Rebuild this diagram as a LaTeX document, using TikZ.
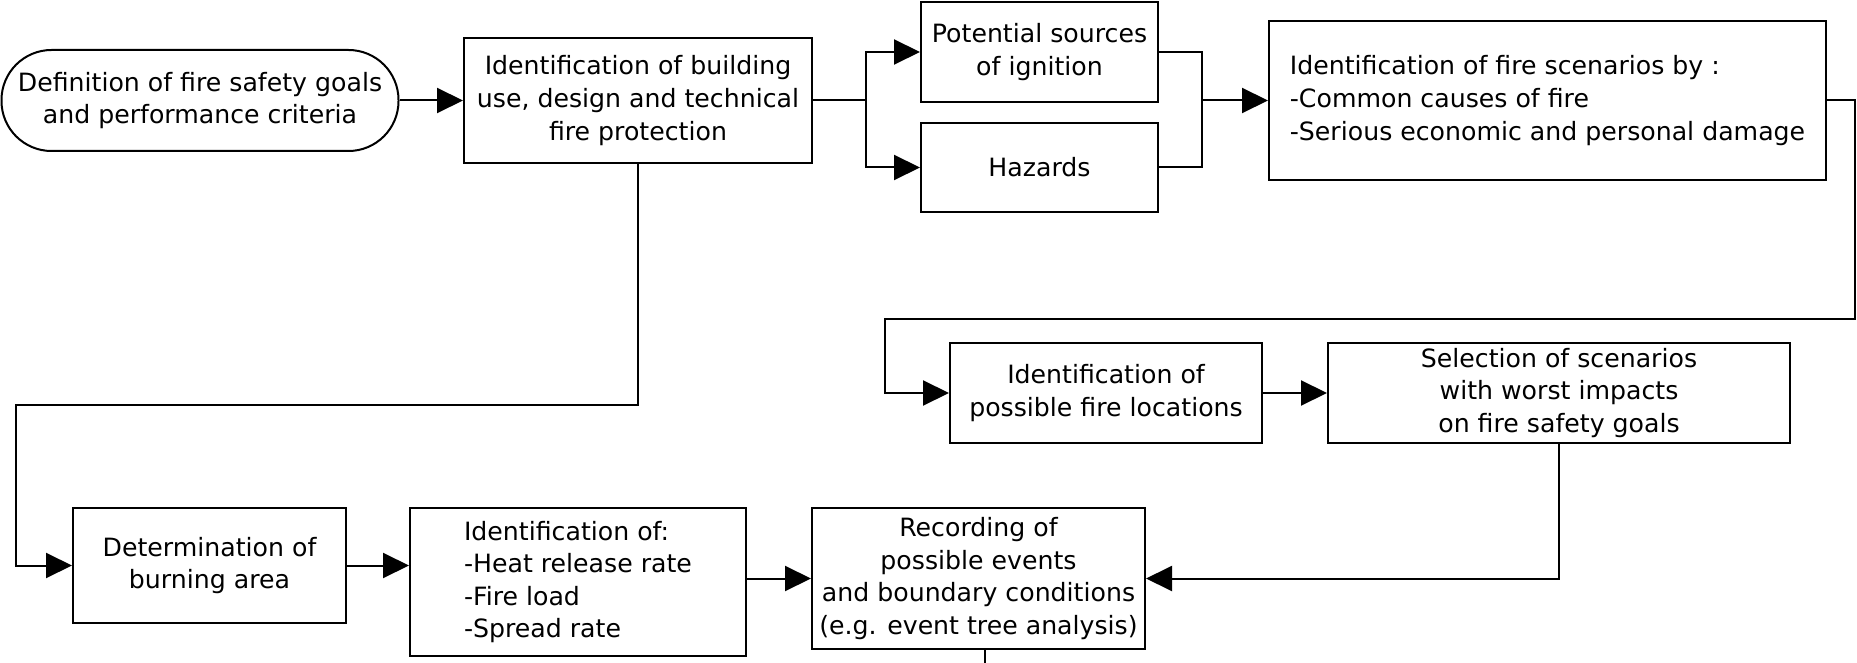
\documentclass[tikz,border=0pt]{standalone}
\usepackage{fontspec}
\setmainfont{DejaVu Sans}
\usetikzlibrary{arrows.meta}
\begin{document}
\begin{tikzpicture}[x=0.5pt,y=-0.5pt,
  box/.style={draw,line width=1pt,inner sep=0pt,align=center,
    font=\fontsize{12.6pt}{16.3pt}\selectfont},
  ln/.style={line width=1pt},
  arr/.style={line width=1pt,-{Triangle[length=13pt,width=12.5pt]}}]
\useasboundingbox (0,0) rectangle (1857,663);
% nodes
\node[box,rounded corners=25pt,minimum width=198.5pt,minimum height=50.5pt] (start) at (200,100.5)
  {Definition of fire safety goals\\and performance criteria};
\node[box,minimum width=174pt,minimum height=62.5pt] (use) at (638,100.5)
  {Identification of building\\use, design and technical\\fire protection};
\node[box,minimum width=118.5pt,minimum height=50pt] (pot) at (1039.5,52)
  {Potential sources\\of ignition};
\node[box,minimum width=118.5pt,minimum height=44.5pt] (haz) at (1039.5,167.5)
  {Hazards};
\node[box,align=left,minimum width=278.5pt,minimum height=79.5pt] (scen) at (1547.5,100.5)
  {Identification of fire scenarios by :\\-Common causes of fire\\-Serious economic and personal damage};
\node[box,minimum width=156pt,minimum height=50pt] (loc) at (1106,393)
  {Identification of\\possible fire locations};
\node[box,minimum width=231pt,minimum height=50pt] (sel) at (1559,393)
  {Selection of scenarios\\with worst impacts\\on fire safety goals};
\node[box,minimum width=136.5pt,minimum height=57.5pt] (burn) at (209.5,565.5)
  {Determination of\\burning area};
\node[box,align=left,minimum width=168pt,minimum height=74pt] (idof) at (578,582)
  {Identification of:\\-Heat release rate\\-Fire load\\-Spread rate};
\node[box,minimum width=166.5pt,minimum height=70.5pt] (rec) at (978.5,578.5)
  {Recording of\\possible events\\and boundary conditions\\(e.g. event tree analysis)};
% helper coordinates
\coordinate (br) at (866,100.5);
\coordinate (mg) at (1202,100.5);
\coordinate (c1) at (1855,100.5);
\coordinate (c2) at (1855,319);
\coordinate (c3) at (885,319);
\coordinate (d1) at (638,405);
\coordinate (d2) at (16,405);
\coordinate (out) at (985,663);
% connectors
\draw[arr] (start.east) -- (use.west);
\draw[ln] (use.east) -- (br);
\draw[arr] (br) |- (pot.west);
\draw[arr] (br) |- (haz.west);
\draw[ln] (pot.east) -| (mg);
\draw[ln] (haz.east) -| (mg);
\draw[arr] (mg) -- (scen.west);
\draw[arr] (scen.east) -- (c1) -- (c2) -- (c3) |- (loc.west);
\draw[arr] (loc.east) -- (sel.west);
\draw[arr] (sel.south) |- (rec.east);
\draw[arr] (use.south) -- (d1) -- (d2) |- (burn.west);
\draw[arr] (burn.east) -- (burn.east -| idof.west);
\draw[arr] (idof.east |- rec.west) -- (rec.west);
\draw[ln] (rec.south -| out) -- (out);
\end{tikzpicture}
\end{document}
